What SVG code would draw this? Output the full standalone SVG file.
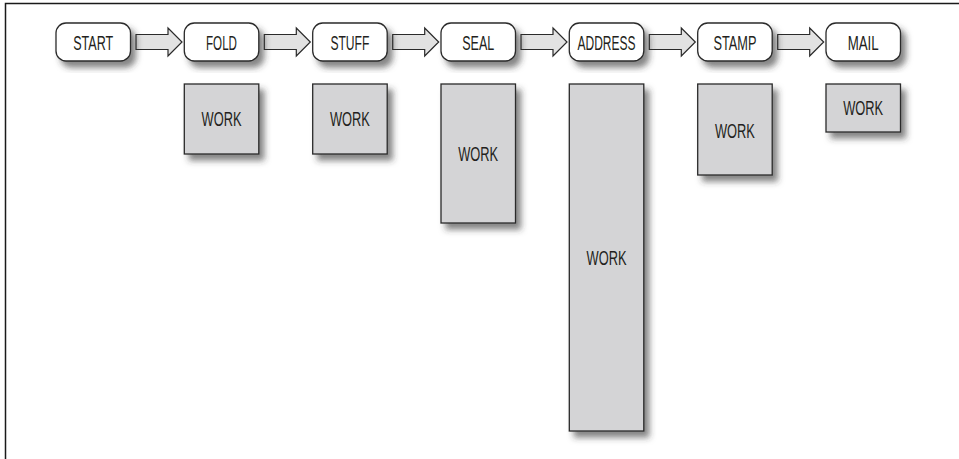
<svg xmlns="http://www.w3.org/2000/svg" width="959" height="459" viewBox="0 0 959 459">
<defs>
<filter id="sh" x="-20%" y="-20%" width="150%" height="150%">
<feDropShadow dx="5" dy="6" stdDeviation="3" flood-color="#333" flood-opacity="0.6"/>
</filter>
<style>
.node rect{fill:#fff;stroke:#2a2a2a;stroke-width:1.3}
.work rect{fill:#d4d4d6;stroke:#2a2a2a;stroke-width:1.3}
text{font-family:"Liberation Sans",Arial,sans-serif;font-size:20.5px;fill:#231f20;text-anchor:middle}
.arrow{fill:#e2e2e2;stroke:#2a2a2a;stroke-width:1.2;stroke-linejoin:miter}
</style>
</defs>
<rect width="959" height="459" fill="#fff"/>
<path d="M5.5 459 V3.5 H959" fill="none" stroke="#1a1a1a" stroke-width="1.5"/>

<g id="connectors">
<path class="arrow" d="M136 34.5 H168 V28 L182 42 L168 56 V49.5 H136 Z"/>
<path class="arrow" transform="translate(128.3 0)" d="M136 34.5 H168 V28 L182 42 L168 56 V49.5 H136 Z"/>
<path class="arrow" transform="translate(256.7 0)" d="M136 34.5 H168 V28 L182 42 L168 56 V49.5 H136 Z"/>
<path class="arrow" transform="translate(385 0)" d="M136 34.5 H168 V28 L182 42 L168 56 V49.5 H136 Z"/>
<path class="arrow" transform="translate(513.3 0)" d="M136 34.5 H168 V28 L182 42 L168 56 V49.5 H136 Z"/>
<path class="arrow" transform="translate(641.7 0)" d="M136 34.5 H168 V28 L182 42 L168 56 V49.5 H136 Z"/>
</g>

<g id="start" class="node"><rect x="56" y="23" width="74.5" height="38" rx="10" filter="url(#sh)"/><text x="93.2" y="50" textLength="40" lengthAdjust="spacingAndGlyphs">START</text></g>
<g id="fold" class="node"><rect x="184.3" y="23" width="74.5" height="38" rx="10" filter="url(#sh)"/><text x="221.5" y="50" textLength="31" lengthAdjust="spacingAndGlyphs">FOLD</text></g>
<g id="stuff" class="node"><rect x="312.7" y="23" width="74.5" height="38" rx="10" filter="url(#sh)"/><text x="349.9" y="50" textLength="39" lengthAdjust="spacingAndGlyphs">STUFF</text></g>
<g id="seal" class="node"><rect x="441" y="23" width="74.5" height="38" rx="10" filter="url(#sh)"/><text x="478.2" y="50" textLength="32" lengthAdjust="spacingAndGlyphs">SEAL</text></g>
<g id="address" class="node"><rect x="569.3" y="23" width="74.5" height="38" rx="10" filter="url(#sh)"/><text x="606.5" y="50" textLength="58" lengthAdjust="spacingAndGlyphs">ADDRESS</text></g>
<g id="stamp" class="node"><rect x="697.7" y="23" width="74.5" height="38" rx="10" filter="url(#sh)"/><text x="734.9" y="50" textLength="43" lengthAdjust="spacingAndGlyphs">STAMP</text></g>
<g id="mail" class="node"><rect x="826" y="23" width="74.5" height="38" rx="10" filter="url(#sh)"/><text x="863.2" y="50" textLength="31" lengthAdjust="spacingAndGlyphs">MAIL</text></g>

<g id="work-fold" class="work"><rect x="184.3" y="84" width="74.5" height="70" filter="url(#sh)"/><text x="221.5" y="126" textLength="40" lengthAdjust="spacingAndGlyphs">WORK</text></g>
<g id="work-stuff" class="work"><rect x="312.7" y="84" width="74.5" height="70" filter="url(#sh)"/><text x="349.9" y="126" textLength="40" lengthAdjust="spacingAndGlyphs">WORK</text></g>
<g id="work-seal" class="work"><rect x="441" y="84" width="74.5" height="139" filter="url(#sh)"/><text x="478.2" y="161" textLength="40" lengthAdjust="spacingAndGlyphs">WORK</text></g>
<g id="work-address" class="work"><rect x="569.3" y="84" width="74.5" height="347" filter="url(#sh)"/><text x="606.5" y="265" textLength="40" lengthAdjust="spacingAndGlyphs">WORK</text></g>
<g id="work-stamp" class="work"><rect x="697.7" y="84" width="74.5" height="91" filter="url(#sh)"/><text x="734.9" y="138" textLength="40" lengthAdjust="spacingAndGlyphs">WORK</text></g>
<g id="work-mail" class="work"><rect x="826" y="84" width="74.5" height="48" filter="url(#sh)"/><text x="863.2" y="115" textLength="40" lengthAdjust="spacingAndGlyphs">WORK</text></g>
</svg>
